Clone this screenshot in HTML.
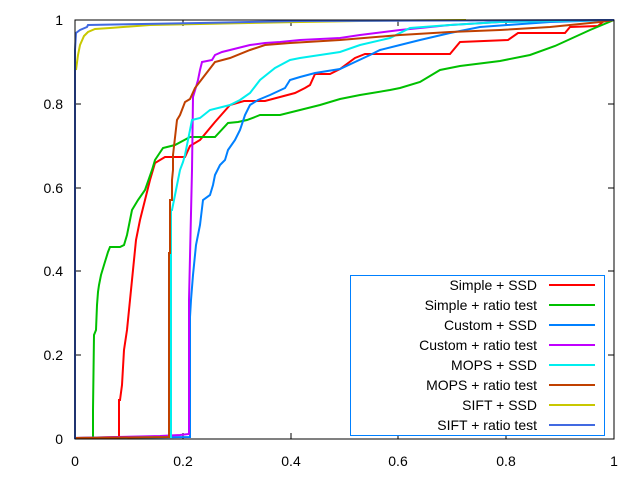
<!DOCTYPE html>
<html><head><meta charset="utf-8"><style>body{margin:0;background:#fff}</style></head><body>
<svg width="640" height="480" xmlns="http://www.w3.org/2000/svg" font-family="Liberation Sans, sans-serif" font-size="14">
<rect width="640" height="480" fill="#fff"/>
<g stroke="#000" stroke-width="1">
<line x1="75" y1="439" x2="81" y2="439"/><line x1="75" y1="355" x2="81" y2="355"/><line x1="75" y1="271" x2="81" y2="271"/><line x1="75" y1="188" x2="81" y2="188"/><line x1="75" y1="104" x2="81" y2="104"/>
<line x1="614" y1="355" x2="608" y2="355"/><line x1="614" y1="271" x2="608" y2="271"/><line x1="614" y1="188" x2="608" y2="188"/><line x1="614" y1="104" x2="608" y2="104"/>
<line x1="183" y1="439" x2="183" y2="433"/><line x1="291" y1="439" x2="291" y2="433"/><line x1="398" y1="439" x2="398" y2="433"/><line x1="506" y1="439" x2="506" y2="433"/>
<line x1="183" y1="20" x2="183" y2="26"/><line x1="291" y1="20" x2="291" y2="26"/><line x1="398" y1="20" x2="398" y2="26"/><line x1="506" y1="20" x2="506" y2="26"/>
</g>
<g text-anchor="end" fill="#000">
<text x="63" y="444">0</text><text x="63" y="360">0.2</text><text x="63" y="276">0.4</text><text x="63" y="193">0.6</text><text x="63" y="109">0.8</text><text x="63" y="25">1</text>
</g>
<g text-anchor="middle" fill="#000">
<text x="75" y="466">0</text><text x="183" y="466">0.2</text><text x="291" y="466">0.4</text><text x="398" y="466">0.6</text><text x="506" y="466">0.8</text><text x="614" y="466">1</text>
</g>
<g fill="none" stroke-width="2">
<polyline stroke="#ff0000" points="75,438 119,437 119,400 120,400 122,385 124,350 127,330 130,300 133,270 136,240 140,220 145,200 150,180 155,163 165,157 185,157 190,146 200,140 215,122 230,105 244,101 265,101 280,97 295,93 305,88 310,85 315,74 330,74 340,69 355,58 365,54 450,54 460,42 508,40 518,33 565,33 570,27 598,26 605,20 614,20"/>
<polyline stroke="#00c000" points="75,438 93,438 93,410 94,335 96,330 97,305 98,292 99,285 101,275 104,265 108,252 110,247 120,247 124,245 127,235 130,220 132,210 138,200 145,190 152,170 155,160 163,148 175,145 190,137 215,137 228,123 238,122 247,120 255,117 260,115 280,115 300,110 320,105 340,99 360,95 390,90 400,88 420,82 440,70 460,66 500,61 530,55 555,46 590,30 614,20"/>
<polyline stroke="#0080ff" points="75,438 190,437 190,317 191,300 193,275 196,245 200,225 203,200 210,195 213,185 215,175 220,165 225,160 228,150 235,140 240,130 245,115 250,105 258,100 270,95 285,88 290,80 300,77 315,73 340,69 355,62 370,55 380,50 400,45 420,40 450,33 480,27 550,22 614,20"/>
<polyline stroke="#c000ff" points="75,438 160,436 180,435 189,434 189,300 192,170 193,97 196,87 198,80 200,70 202,62 212,60 215,55 222,52 230,50 250,45 265,43 280,42 300,40 340,38 360,35 400,30 450,25 500,22 560,21 614,20"/>
<polyline stroke="#00eeee" points="75,438 171,437 171,210 172,210 174,200 177,185 180,170 183,162 185,155 192,120 200,118 210,110 230,105 240,100 250,93 260,80 275,68 290,60 300,58 320,55 340,52 360,45 390,38 410,28 450,25 500,22 560,21 614,20"/>
<polyline stroke="#c04000" points="75,438 169,437 169,253 170,253 170,200 172,200 172,180 173,170 173,155 177,120 180,115 185,102 190,99 195,88 205,75 215,62 230,58 250,50 265,45 290,43 340,40 400,35 450,32 500,30 550,27 600,22 614,20"/>
<polyline stroke="#c8c800" points="76,70 78,55 80,45 84,36 88,32 95,29 110,28 150,25 200,24 300,22 360,21 466,20"/>
<polyline stroke="#4169e1" points="75,439 75,50 76,33 80,30 87,27 88,25 200,23 300,21 614,20"/>
</g>
<rect x="75" y="20" width="539" height="419" fill="none" stroke="#000" stroke-width="1"/>
<rect x="350.5" y="275.5" width="254" height="160" fill="#fff" stroke="#0080ff" stroke-width="1"/>
<g text-anchor="end" fill="#000">
<text x="537" y="290">Simple + SSD</text><text x="537" y="310">Simple + ratio test</text><text x="537" y="330">Custom + SSD</text><text x="537" y="350">Custom + ratio test</text><text x="537" y="370">MOPS + SSD</text><text x="537" y="390">MOPS + ratio test</text><text x="537" y="410">SIFT + SSD</text><text x="537" y="430">SIFT + ratio test</text>
</g>
<g stroke-width="2">
<line x1="549" x2="595" y1="285" y2="285" stroke="#ff0000"/><line x1="549" x2="595" y1="305" y2="305" stroke="#00c000"/><line x1="549" x2="595" y1="325" y2="325" stroke="#0080ff"/><line x1="549" x2="595" y1="345" y2="345" stroke="#c000ff"/><line x1="549" x2="595" y1="365" y2="365" stroke="#00eeee"/><line x1="549" x2="595" y1="385" y2="385" stroke="#c04000"/><line x1="549" x2="595" y1="405" y2="405" stroke="#c8c800"/><line x1="549" x2="595" y1="425" y2="425" stroke="#4169e1"/>
</g>
</svg>
</body></html>
